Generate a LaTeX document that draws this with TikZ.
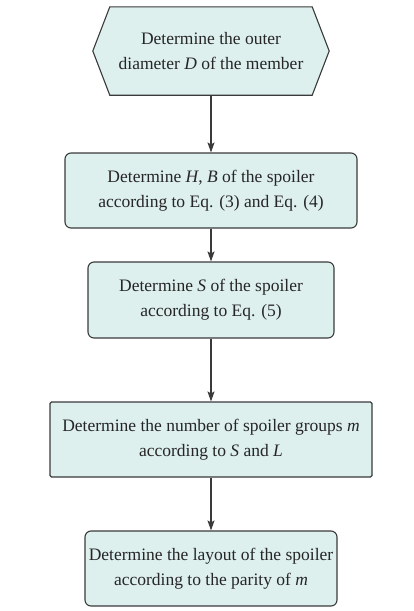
\documentclass[tikz,border=0pt]{standalone}
\usepackage{fontspec}
\setmainfont{Liberation Serif}
\usetikzlibrary{arrows.meta,calc}
\definecolor{boxfill}{HTML}{DDF0EE}
\definecolor{boxline}{HTML}{3A3A3A}
\tikzset{
  base/.style={align=center, inner sep=0pt, font=\fontsize{17.5}{25}\selectfont, text=black!85},
  roundbox/.style={base, draw=boxline, fill=boxfill, line width=1.1pt, rounded corners=6pt},
  squarebox/.style={base, draw=boxline, fill=boxfill, line width=1.1pt, rounded corners=1.5pt},
  flow/.style={draw=boxline, line width=1.1pt, -{Stealth[length=10pt,width=7pt,inset=2pt]}}
}
\begin{document}
\begin{tikzpicture}[x=1pt,y=-1pt]
\useasboundingbox (0,0) rectangle (413,611);
% hexagon start
\node[base, minimum width=236pt, minimum height=88pt] (n1) at (211,51) {};
\fill[boxfill, draw=boxline, line width=1.1pt]
  (n1.west) -- ($(n1.north west)+(17,0)$) -- ($(n1.north east)+(-17,0)$) -- (n1.east)
  -- ($(n1.south east)+(-17,0)$) -- ($(n1.south west)+(17,0)$) -- cycle;
\node[base] at (n1.center) {Determine the outer\\diameter \textit{D} of the member};
\node[roundbox, minimum width=292pt, minimum height=75pt] (n2) at (211,190.5)
  {Determine \textit{H}, \textit{B} of the spoiler\\according to Eq. (3) and Eq. (4)};
\node[roundbox, minimum width=246pt, minimum height=76pt] (n3) at (211,300)
  {Determine \textit{S} of the spoiler\\according to Eq. (5)};
\node[squarebox, minimum width=322pt, minimum height=75pt] (n4) at (211,439.5)
  {Determine the number of spoiler groups \textit{m}\\according to \textit{S} and \textit{L}};
\node[roundbox, minimum width=252pt, minimum height=75pt] (n5) at (211,568.5)
  {Determine the layout of the spoiler\\according to the parity of \textit{m}};
\draw[flow] (n1.south) -- (n1.south |- n2.north);
\draw[flow] (n2.south) -- (n2.south |- n3.north);
\draw[flow] (n3.south) -- (n3.south |- n4.north);
\draw[flow] (n4.south) -- (n4.south |- n5.north);
\end{tikzpicture}
\end{document}
